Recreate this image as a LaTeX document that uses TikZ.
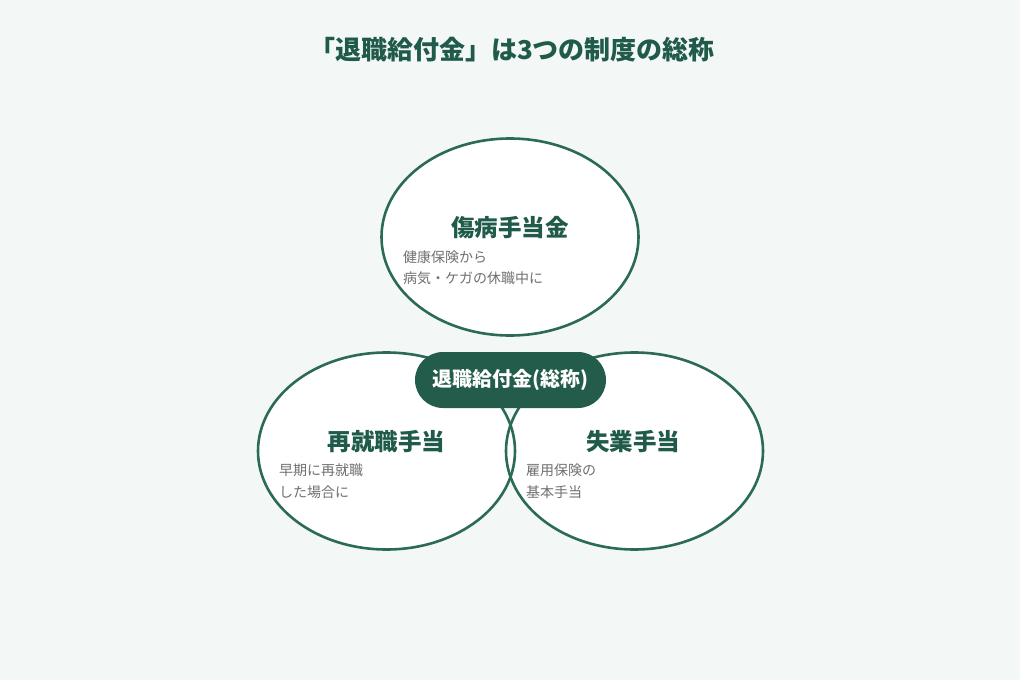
\documentclass[tikz,border=0pt]{standalone}
\usepackage{fontspec}
\newfontfamily\jp{Noto Sans CJK JP}
\usetikzlibrary{shapes.geometric,shapes.misc}
\definecolor{bgc}{HTML}{F3F8F6}
\definecolor{dgreen}{HTML}{1F5A4A}
\definecolor{stroke}{HTML}{2A6A56}
\definecolor{pillc}{HTML}{245C4C}
\definecolor{gtext}{HTML}{707070}
\tikzset{
  ellfill/.style={ellipse, fill=white, minimum width=257pt, minimum height=197pt, inner sep=0pt},
  elldraw/.style={ellipse, draw=stroke, line width=2.6pt, minimum width=257pt, minimum height=197pt, inner sep=0pt},
  titletext/.style={text=dgreen, font=\jp\bfseries\fontsize{26}{30}\selectfont},
  headtext/.style={text=dgreen, font=\jp\bfseries\fontsize{23.5}{28}\selectfont},
  bodytext/.style={text=gtext, anchor=west, inner sep=0pt, font=\jp\fontsize{14}{17}\selectfont},
  pill/.style={rounded rectangle, fill=pillc, text=white, minimum width=191pt, minimum height=56pt, inner sep=0pt, font=\jp\bfseries\fontsize{20}{24}\selectfont},
}
\begin{document}
\begin{tikzpicture}[x=1pt,y=-1pt]
\fill[bgc] (0,0) rectangle (1020,680);
\useasboundingbox (0,0) rectangle (1020,680);
\node[titletext] (title) at (512,50) {「退職給付金」は3つの制度の総称};
% ellipse fills
\node[ellfill] (etop) at (510,237) {};
\node[ellfill] (eleft) at (386.5,451) {};
\node[ellfill] (eright) at (634.5,451) {};
% ellipse outlines
\node[elldraw] (otop) at (etop.center) {};
\node[elldraw] (oleft) at (eleft.center) {};
\node[elldraw] (oright) at (eright.center) {};
% pill
\node[pill] (center) at (510.5,380) {退職給付金(総称)};
% top
\node[headtext] (htop) at (510,228) {傷病手当金};
\node[bodytext] (btop1) at (403,257) {健康保険から};
\node[bodytext] (btop2) at (403,278) {病気・ケガの休職中に};
% left
\node[headtext] (hleft) at (386.5,442) {再就職手当};
\node[bodytext] (bleft1) at (279,470) {早期に再就職};
\node[bodytext] (bleft2) at (279,492) {した場合に};
% right
\node[headtext] (hright) at (633,442) {失業手当};
\node[bodytext] (bright1) at (526,470) {雇用保険の};
\node[bodytext] (bright2) at (526,492) {基本手当};
\end{tikzpicture}
\end{document}
